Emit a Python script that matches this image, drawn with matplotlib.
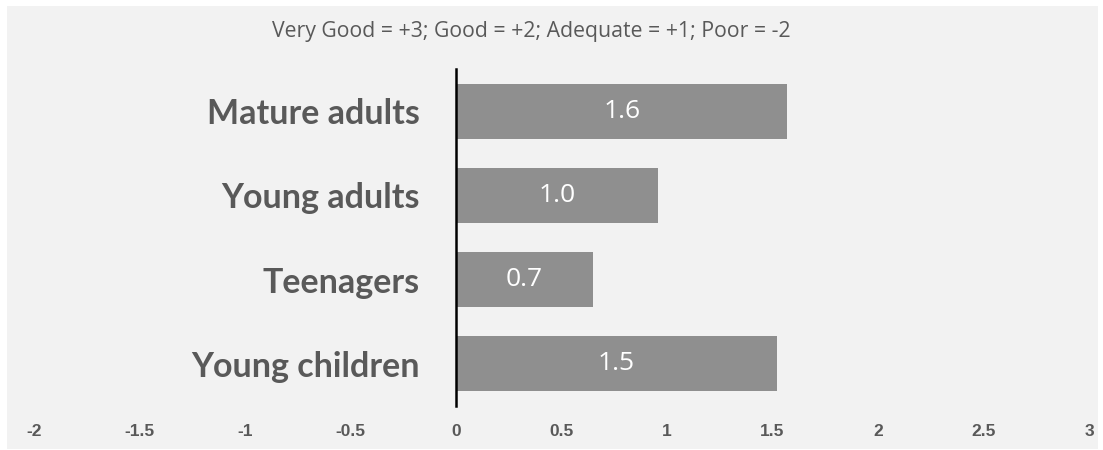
import matplotlib.pyplot as plt
from matplotlib.patches import Rectangle

categories = ['Young children', 'Teenagers', 'Young adults', 'Mature adults']
scores = [1.52, 0.65, 0.955, 1.57]
xticks = [-2, -1.5, -1, -0.5, 0, 0.5, 1, 1.5, 2, 2.5, 3]
title = 'Very Good = +3; Good = +2; Adequate = +1; Poor = -2'

grey_txt = '#595959'
bar_col = '#8f8f8f'

fig = plt.figure(figsize=(11.03, 4.5), dpi=100)
fig.patch.set_facecolor('white')
# light grey chart area with a thin white margin
fig.patches.append(Rectangle((7/1103, 1/450), 1091/1103, 443/450,
                             transform=fig.transFigure, facecolor='#f2f2f2',
                             edgecolor='none', zorder=-1))

ax = fig.add_axes([34/1103, 1 - 406/450, 1055/1103, 337/450])
ax.set_facecolor('none')

# spine position first, it resets the tick labels
for s in ['top', 'right', 'bottom']:
    ax.spines[s].set_visible(False)
ax.spines['left'].set_position(('data', 0))
ax.spines['left'].set_color('black')
ax.spines['left'].set_linewidth(1.8)

bars = ax.barh(range(len(categories)), scores, height=0.65, color=bar_col, zorder=2)
for b, v in zip(bars, scores):
    ax.text(b.get_width() / 2, b.get_y() + b.get_height() / 2, '%.1f' % v,
            ha='center', va='center', color='white', fontsize=19,
            family='Open Sans', zorder=3)

ax.set_xlim(-2, 3)
ax.set_ylim(-0.5, 3.5)
ax.set_xticks(xticks)
ax.set_xticklabels([('%g' % t) for t in xticks], fontsize=12.5, fontweight='bold',
                   color=grey_txt, family='Liberation Sans')
ax.set_yticks(range(len(categories)))
ax.set_yticklabels(categories, fontsize=24.5, fontweight='bold', color=grey_txt,
                   family='Lato')
ax.tick_params(axis='y', length=0, pad=26)
ax.tick_params(axis='x', length=0, pad=13)

fig.text(531/1103, 1 - 32/450, title, ha='center', va='center', fontsize=15.3,
         color=grey_txt, family='Open Sans')

fig.savefig('out.png', dpi=100, facecolor=fig.get_facecolor())
